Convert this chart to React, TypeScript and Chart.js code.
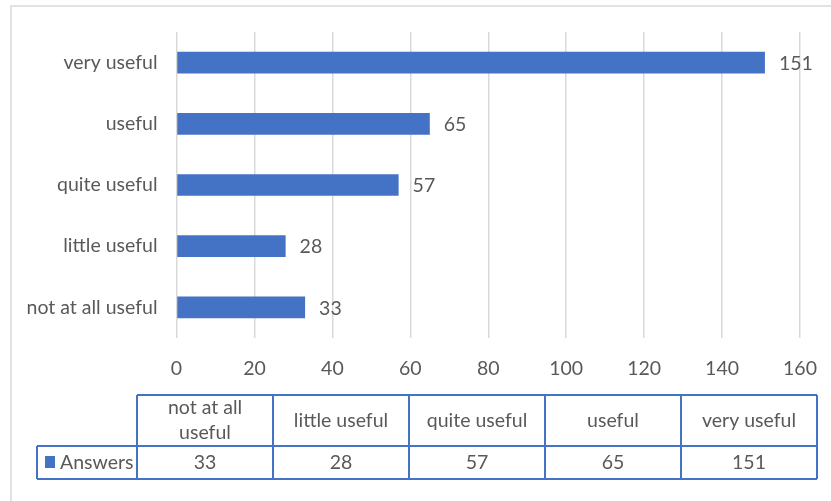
import React, { useEffect, useRef } from "react";
import { Chart, registerables } from "chart.js";

Chart.register(...registerables);

const categories = ["not at all useful", "little useful", "quite useful", "useful", "very useful"];
const answers = [33, 28, 57, 65, 151];
const seriesName = "Answers";
const xTicks = [0, 20, 40, 60, 80, 100, 120, 140, 160];

const BLUE = "#4472C4";
const TEXT = "#595959";
const FONT = "Lato, 'Open Sans', sans-serif";
const FS = 19.5;

const labelPlugin = {
  id: "valueLabels",
  afterDatasetsDraw(chart: any) {
    const ctx = chart.ctx;
    const meta = chart.getDatasetMeta(0);
    ctx.save();
    ctx.fillStyle = TEXT;
    ctx.font = `${FS}px ${FONT}`;
    ctx.textAlign = "left";
    ctx.textBaseline = "middle";
    meta.data.forEach((bar: any, i: number) => {
      ctx.fillText(String(chart.data.datasets[0].data[i]), bar.x + 14, bar.y + 1);
    });
    ctx.restore();
  },
};

function wrap(ctx: CanvasRenderingContext2D, text: string, maxW: number): string[] {
  const words = text.split(" ");
  const lines: string[] = [];
  let cur = "";
  for (const w of words) {
    const t = cur ? cur + " " + w : w;
    if (ctx.measureText(t).width > maxW && cur) {
      lines.push(cur);
      cur = w;
    } else cur = t;
  }
  if (cur) lines.push(cur);
  return lines;
}

const tablePlugin = {
  id: "dataTable",
  afterDraw(chart: any) {
    const ctx: CanvasRenderingContext2D = chart.ctx;
    ctx.save();
    // outer chart border
    ctx.strokeStyle = "#d9d9d9";
    ctx.lineWidth = 1.5;
    ctx.strokeRect(11, 6, 1000, 1000);

    const legX = 37;
    const colX0 = 137;
    const colW = 136;
    const top = 395;
    const mid = 446;
    const bot = 479;
    const n = categories.length;
    const right = colX0 + colW * n;

    ctx.strokeStyle = BLUE;
    ctx.lineWidth = 2;
    ctx.beginPath();
    ctx.moveTo(colX0, top);
    ctx.lineTo(right, top);
    ctx.moveTo(legX, mid);
    ctx.lineTo(right, mid);
    ctx.moveTo(legX, bot);
    ctx.lineTo(right, bot);
    ctx.moveTo(legX, mid);
    ctx.lineTo(legX, bot);
    for (let i = 0; i <= n; i++) {
      const x = colX0 + colW * i;
      ctx.moveTo(x, top);
      ctx.lineTo(x, bot);
    }
    ctx.stroke();

    ctx.fillStyle = TEXT;
    ctx.font = `${FS}px ${FONT}`;
    ctx.textAlign = "center";
    ctx.textBaseline = "middle";
    const lh = 25;
    categories.forEach((c, i) => {
      const cx = colX0 + colW * i + colW / 2;
      const lines = wrap(ctx, c, 124);
      const cy = (top + mid) / 2;
      lines.forEach((ln, j) => {
        ctx.fillText(ln, cx, cy + (j - (lines.length - 1) / 2) * lh);
      });
      ctx.fillText(String(answers[i]), cx, (mid + bot) / 2);
    });

    ctx.fillStyle = BLUE;
    ctx.fillRect(45, 456, 10, 12);
    ctx.fillStyle = TEXT;
    ctx.textAlign = "left";
    ctx.fillText(seriesName, 60, (mid + bot) / 2);
    ctx.restore();
  },
};

export default function App() {
  const ref = useRef<HTMLCanvasElement | null>(null);
  useEffect(() => {
    if (!ref.current) return;
    const chart = new Chart(ref.current, {
      type: "bar",
      data: {
        labels: categories,
        datasets: [
          {
            label: seriesName,
            data: answers,
            backgroundColor: BLUE,
            barPercentage: 0.355,
            categoryPercentage: 1,
          },
        ],
      },
      options: {
        indexAxis: "y",
        animation: false,
        responsive: false,
        layout: { padding: { top: 32, right: 31, left: 0, bottom: 0 } },
        plugins: {
          legend: { display: false },
          tooltip: { enabled: false },
        },
        scales: {
          x: {
            min: xTicks[0],
            max: xTicks[xTicks.length - 1],
            afterBuildTicks: (scale: any) => {
              scale.ticks = xTicks.map((v) => ({ value: v }));
            },
            afterFit: (scale: any) => {
              scale.height = 163;
              scale.paddingLeft = 0;
              scale.paddingRight = 0;
            },
            grid: { color: "#d9d9d9", lineWidth: 1.5, drawTicks: false },
            border: { display: false },
            ticks: { color: TEXT, font: { family: FONT, size: FS }, padding: 19, maxRotation: 0 },
          },
          y: {
            reverse: true,
            afterFit: (scale: any) => {
              scale.width = 176.5;
              scale.paddingTop = 0;
              scale.paddingBottom = 0;
            },
            grid: { display: false, drawTicks: false },
            border: { display: false },
            ticks: { color: TEXT, font: { family: FONT, size: FS }, padding: 19 },
          },
        },
      },
      plugins: [labelPlugin, tablePlugin],
    });
    return () => chart.destroy();
  }, []);
  return (
    <div style={{ position: "absolute", left: 0, top: 0, width: 831, height: 501, background: "#fff" }}>
      <canvas ref={ref} width={831} height={501} style={{ display: "block" }} />
    </div>
  );
}
